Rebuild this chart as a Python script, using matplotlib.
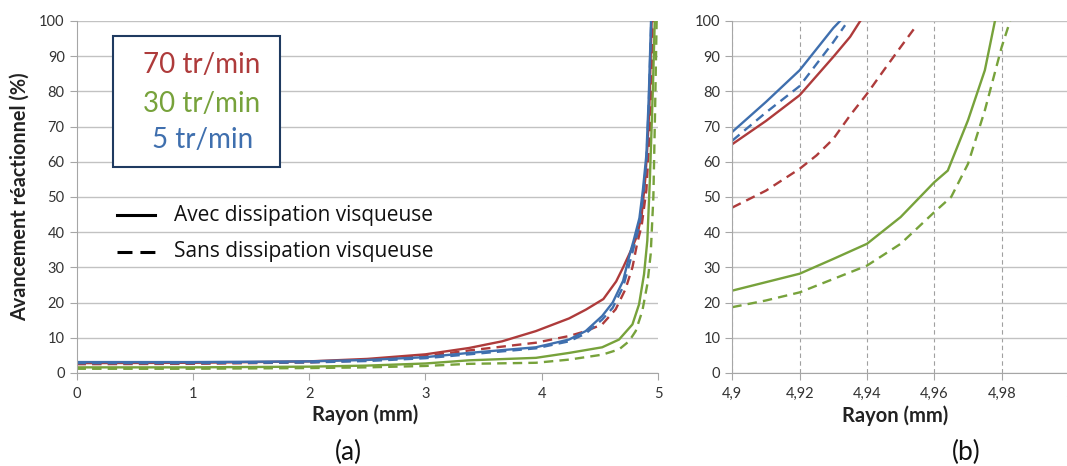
import numpy as np
import matplotlib.pyplot as plt
from matplotlib.patches import Rectangle

plt.rcParams['font.family'] = ['Lato', 'DejaVu Sans']

# ---- panel (a): radius (mm) / reaction progress (%)
# 70 tr/min
ra70_avec = [0, 1, 2, 2.5, 3, 3.375, 3.66, 3.95, 4.235, 4.38, 4.53, 4.64, 4.7, 4.77, 4.82, 4.86, 4.89, 4.91, 4.925, 4.945]
ya70_avec = [2.8, 2.9, 3.3, 4.0, 5.3, 7.1, 9.0, 11.9, 15.5, 18, 21, 26, 30, 35, 39, 45, 55, 65, 75, 100]
ra70_sans = [0, 1, 2, 2.5, 3, 3.375, 3.95, 4.235, 4.38, 4.52, 4.636, 4.72, 4.78, 4.82, 4.86, 4.9, 4.937, 4.955]
ya70_sans = [2.5, 2.6, 3.0, 3.6, 4.8, 6.4, 8.6, 10.5, 11.9, 13.8, 18.1, 23.8, 30, 36.7, 42, 52, 73, 100]
# 30 tr/min
ra30_avec = [0, 1, 2, 2.5, 3, 3.375, 3.95, 4.235, 4.52, 4.665, 4.78, 4.837, 4.88, 4.908, 4.93, 4.955, 4.972]
ya30_avec = [1.6, 1.6, 1.8, 2.1, 2.7, 3.6, 4.3, 5.7, 7.3, 9.5, 13.8, 19.5, 28.1, 37.6, 55, 80, 100]
ra30_sans = [0, 1, 2, 2.5, 3, 3.375, 3.95, 4.235, 4.52, 4.665, 4.75, 4.808, 4.865, 4.908, 4.937, 4.96, 4.975, 4.988]
ya30_sans = [1.2, 1.2, 1.4, 1.6, 2.0, 2.6, 2.9, 3.8, 5.2, 6.7, 9, 11.9, 17.6, 25.2, 33.8, 50, 75, 100]
# 5 tr/min
ra5_avec = [0, 1, 2, 2.5, 3, 3.375, 3.95, 4.235, 4.378, 4.52, 4.61, 4.7, 4.75, 4.79, 4.84, 4.87, 4.9, 4.92, 4.94]
ya5_avec = [3.1, 3.1, 3.3, 3.7, 4.5, 5.7, 7.3, 9.5, 11.9, 16.2, 20, 26.2, 32.9, 37.6, 44, 52, 62, 78, 100]
ra5_sans = [0, 1, 2, 2.5, 3, 3.375, 3.95, 4.235, 4.378, 4.52, 4.61, 4.7, 4.75, 4.79, 4.84, 4.87, 4.9, 4.92, 4.942]
ya5_sans = [2.8, 2.8, 3.0, 3.4, 4.2, 5.3, 7.0, 9.0, 11.2, 15.2, 18.5, 24.5, 30.5, 35.5, 42, 50, 60, 76, 100]

# ---- panel (b): zoom near the wall
rb70_avec = [4.9, 4.91, 4.92, 4.93, 4.935, 4.938]
yb70_avec = [65, 71.6, 78.9, 89.8, 95.5, 100]
rb70_sans = [4.9, 4.91, 4.92, 4.925, 4.93, 4.935, 4.94, 4.945, 4.95, 4.954]
yb70_sans = [47, 51.8, 58, 61.8, 66.5, 73.2, 79.3, 86, 92.6, 97.8]
rb30_avec = [4.9, 4.91, 4.92, 4.93, 4.94, 4.95, 4.96, 4.964, 4.97, 4.975, 4.978]
yb30_avec = [23.4, 25.8, 28.2, 32.4, 36.7, 44.3, 54.2, 57.5, 71.8, 86, 100]
rb30_sans = [4.9, 4.91, 4.92, 4.93, 4.94, 4.95, 4.96, 4.965, 4.97, 4.975, 4.98, 4.9825]
yb30_sans = [18.7, 20.6, 22.9, 26.7, 30.5, 36.7, 45.7, 50, 59.4, 74.6, 92.6, 100]
rb5_avec = [4.9, 4.91, 4.92, 4.93, 4.932]
yb5_avec = [68.5, 77, 86, 98, 100]
rb5_sans = [4.9, 4.91, 4.92, 4.93, 4.9335]
yb5_sans = [66, 74, 81.5, 94, 98.8]

yticks = [0, 10, 20, 30, 40, 50, 60, 70, 80, 90, 100]
xticks_a = [0, 1, 2, 3, 4, 5]
xticks_b = [4.9, 4.92, 4.94, 4.96, 4.98, 5.0]
xlabels_b = ['4,9', '4,92', '4,94', '4,96', '4,98', '5']

red = '#AE3B3B'
green = '#77A23B'
blue = '#3F6FAE'
dash = (0, (4, 2.6))

fig = plt.figure(figsize=(10.67, 4.66), dpi=100)
ax1 = fig.add_axes([0.0717, 0.1996, 0.545, 0.7554])
ax2 = fig.add_axes([0.6863, 0.1996, 0.3156, 0.7554])

ax1.plot(ra70_avec, ya70_avec, color=red, lw=1.7)
ax1.plot(ra70_sans, ya70_sans, color=red, lw=1.7, ls=dash)
ax1.plot(ra30_avec, ya30_avec, color=green, lw=1.7)
ax1.plot(ra30_sans, ya30_sans, color=green, lw=1.7, ls=dash)
ax1.plot(ra5_avec, ya5_avec, color=blue, lw=1.7)
ax1.plot(ra5_sans, ya5_sans, color=blue, lw=1.7, ls=dash)

ax2.plot(rb70_avec, yb70_avec, color=red, lw=1.7)
ax2.plot(rb70_sans, yb70_sans, color=red, lw=1.7, ls=dash)
ax2.plot(rb30_avec, yb30_avec, color=green, lw=1.7)
ax2.plot(rb30_sans, yb30_sans, color=green, lw=1.7, ls=dash)
ax2.plot(rb5_avec, yb5_avec, color=blue, lw=1.7)
ax2.plot(rb5_sans, yb5_sans, color=blue, lw=1.7, ls=dash)

for ax in (ax1, ax2):
    ax.set_ylim(0, 100)
    ax.set_yticks(yticks)
    ax.grid(axis='y', color='#c2c2c2', lw=1.0)
    ax.set_axisbelow(True)
    for s in ['top', 'right']:
        ax.spines[s].set_visible(False)
    for s in ['left', 'bottom']:
        ax.spines[s].set_color('#a6a6a6')
    ax.tick_params(colors='#a6a6a6', labelcolor='#333333', labelsize=10.5, length=5, direction='out')
    ax.tick_params(axis='x', pad=5)
    ax.set_xlabel('Rayon (mm)', fontsize=14.5, fontweight='bold', color='#222222')

ax1.set_xlim(0, 5)
ax1.set_xticks(xticks_a)
ax1.xaxis.set_label_coords(0.496, -0.09)
ax1.set_ylabel('Avancement réactionnel (%)', fontsize=14.3, fontweight='bold', color='#222222')
ax1.yaxis.set_label_coords(-0.081, 0.5)

ax2.set_xlim(4.9, 5.0)
ax2.set_xticks(xticks_b)
ax2.set_xticklabels(xlabels_b)
ax2.get_xticklabels()[-1].set_color('#d04020')
ax2.grid(axis='x', color='#a0a0a0', lw=0.8, ls=(0, (4, 3)))
ax2.xaxis.set_label_coords(0.483, -0.092)

# speed legend box
fig.patches.append(Rectangle((113 / 1067, 1 - 167 / 466), 167 / 1067, 131 / 466,
                             transform=fig.transFigure, fill=True, facecolor='white',
                             edgecolor='#1f3a60', lw=1.5))
fig.text(202 / 1067, 1 - 65 / 466, '70 tr/min', color=red, fontsize=20, ha='center', va='center')
fig.text(202 / 1067, 1 - 104 / 466, '30 tr/min', color=green, fontsize=20, ha='center', va='center')
fig.text(203 / 1067, 1 - 140 / 466, '5 tr/min', color=blue, fontsize=20, ha='center', va='center')

# line style legend
fig.add_artist(plt.Line2D([117 / 1067, 155 / 1067], [1 - 215 / 466] * 2, color='black', lw=2.2))
fig.add_artist(plt.Line2D([117 / 1067, 155 / 1067], [1 - 252 / 466] * 2, color='black', lw=2.2,
                          ls=(0, (4.9, 2.6))))
fig.text(174 / 1067, 1 - 215 / 466, 'Avec dissipation visqueuse', fontsize=15, ha='left', va='center',
         color='#111111', family='Open Sans')
fig.text(174 / 1067, 1 - 252 / 466, 'Sans dissipation visqueuse', fontsize=15, ha='left', va='center',
         color='#111111', family='Open Sans')

fig.text(348 / 1067, 1 - 452 / 466, '(a)', fontsize=19, ha='center', va='center', color='#111111')
fig.text(966 / 1067, 1 - 452 / 466, '(b)', fontsize=19, ha='center', va='center', color='#111111')

fig.savefig('out.png', dpi=100)
